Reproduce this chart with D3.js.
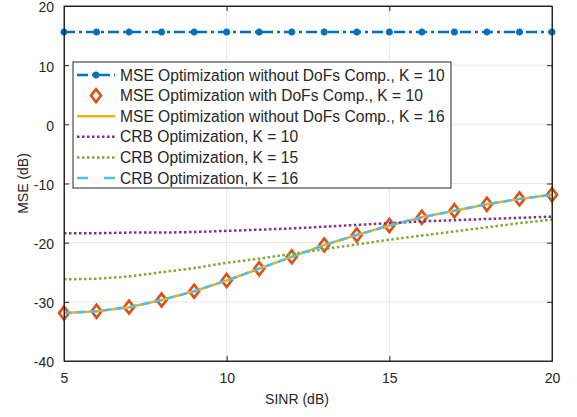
<!DOCTYPE html>
<html>
<head>
<meta charset="utf-8">
<script src="https://cdn.jsdelivr.net/npm/d3@7"></script>
<style>
  body { margin: 0; background: #fff; }
  text { font-family: "Liberation Sans", Arial, sans-serif; fill: #262626; }
</style>
</head>
<body>
<div></div>
<script>
const sinr = [5, 6, 7, 8, 9, 10, 11, 12, 13, 14, 15, 16, 17, 18, 19, 20];
const mseNoDofsK10 = [15.6, 15.6, 15.6, 15.6, 15.6, 15.6, 15.6, 15.6, 15.6, 15.6, 15.6, 15.6, 15.6, 15.6, 15.6, 15.6];
const mseDofsK10 = [-31.9, -31.6, -30.9, -29.7, -28.2, -26.4, -24.4, -22.4, -20.4, -18.7, -17.1, -15.7, -14.6, -13.5, -12.6, -11.9];
const mseNoDofsK16 = [-31.9, -31.6, -30.9, -29.7, -28.2, -26.4, -24.4, -22.4, -20.4, -18.7, -17.1, -15.7, -14.6, -13.5, -12.6, -11.9];
const crbK10 = [-18.4, -18.4, -18.3, -18.3, -18.2, -18.0, -17.8, -17.6, -17.3, -17.0, -16.7, -16.4, -16.2, -16.0, -15.8, -15.6];
const crbK15 = [-26.2, -26.1, -25.7, -25.0, -24.3, -23.4, -22.7, -21.9, -21.1, -20.3, -19.5, -18.8, -18.1, -17.4, -16.7, -16.1];
const crbK16 = [-31.9, -31.6, -30.9, -29.7, -28.2, -26.4, -24.4, -22.4, -20.4, -18.7, -17.1, -15.7, -14.6, -13.5, -12.6, -11.9];
const xTicks = [5, 10, 15, 20];
const yTicks = [-40, -30, -20, -10, 0, 10, 20];
const legendLabels = [
  'MSE Optimization without DoFs Comp., K = 10',
  'MSE Optimization with DoFs Comp., K = 10',
  'MSE Optimization without DoFs Comp., K = 16',
  'CRB Optimization, K = 10',
  'CRB Optimization, K = 15',
  'CRB Optimization, K = 16'
];

const width = 577, height = 417;
const margin = {left: 64, right: 25, top: 6, bottom: 56};

const svg = d3.select('div').append('svg')
  .attr('width', width)
  .attr('height', height);

const x = d3.scaleLinear().domain([5, 20]).range([margin.left, width - margin.right]);
const y = d3.scaleLinear().domain([-40, 20]).range([height - margin.bottom, margin.top]);

// grid
svg.append('g').selectAll('line.gx')
  .data(xTicks.slice(1, -1))
  .enter().append('line')
  .attr('x1', d => x(d)).attr('x2', d => x(d))
  .attr('y1', y(-40)).attr('y2', y(20))
  .attr('stroke', '#e6e6e6').attr('stroke-width', 1);
svg.append('g').selectAll('line.gy')
  .data(yTicks.slice(1, -1))
  .enter().append('line')
  .attr('x1', x(5)).attr('x2', x(20))
  .attr('y1', d => y(d)).attr('y2', d => y(d))
  .attr('stroke', '#e6e6e6').attr('stroke-width', 1);

const series = [
  {vals: mseNoDofsK10, color: '#0072BD', dash: '11,4,3,4', line: true, marker: 'star'},
  {vals: mseDofsK10, color: '#D95319', line: false, marker: 'diamond'},
  {vals: mseNoDofsK16, color: '#EDB120', dash: null, line: true},
  {vals: crbK10, color: '#7E2F8E', dash: '2.5,2.5', line: true},
  {vals: crbK15, color: '#77AC30', dash: '2.5,2.5', line: true},
  {vals: crbK16, color: '#4DBEEE', dash: '8,5', line: true}
];

const line = d3.line().x(d => x(d[0])).y(d => y(d[1]));
const diamond = 'M0,-6.5L5,0L0,6.5L-5,0Z';
const star = 'M-3.5,0H3.5M0,-3.5V3.5M-2.5,-2.5L2.5,2.5M-2.5,2.5L2.5,-2.5';

const plot = svg.append('g');
series.forEach(s => {
  const pts = sinr.map((v, i) => [v, s.vals[i]]);
  if (s.line) {
    plot.append('path')
      .attr('d', line(pts))
      .attr('fill', 'none')
      .attr('stroke', s.color)
      .attr('stroke-width', 2.5)
      .attr('stroke-dasharray', s.dash);
  }
  if (s.marker) {
    plot.selectAll(null).data(pts).enter().append('path')
      .attr('transform', d => `translate(${x(d[0])},${y(d[1])})`)
      .attr('d', s.marker === 'diamond' ? diamond : star)
      .attr('fill', 'none')
      .attr('stroke', s.color)
      .attr('stroke-width', s.marker === 'diamond' ? 2.7 : 2.2);
  }
});

// axes box
const axCol = '#262626';
svg.append('rect')
  .attr('x', x(5)).attr('y', y(20))
  .attr('width', x(20) - x(5)).attr('height', y(-40) - y(20))
  .attr('fill', 'none').attr('stroke', axCol).attr('stroke-width', 1);

const fmt = d => String(d);
const xAxis = d3.axisBottom(x).tickValues(xTicks).tickSize(-5).tickPadding(12).tickFormat(fmt);
const yAxis = d3.axisLeft(y).tickValues(yTicks).tickSize(-5).tickPadding(10).tickFormat(fmt);
const xAxisTop = d3.axisTop(x).tickValues(xTicks).tickSize(-5).tickFormat('');
const yAxisRight = d3.axisRight(y).tickValues(yTicks).tickSize(-5).tickFormat('');

const gx = svg.append('g').attr('transform', `translate(0,${y(-40)})`).call(xAxis);
const gy = svg.append('g').attr('transform', `translate(${x(5)},0)`).call(yAxis);
const gxt = svg.append('g').attr('transform', `translate(0,${y(20)})`).call(xAxisTop);
const gyr = svg.append('g').attr('transform', `translate(${x(20)},0)`).call(yAxisRight);
[gx, gy, gxt, gyr].forEach(g => {
  g.select('.domain').attr('stroke', axCol);
  g.selectAll('.tick line').attr('stroke', axCol);
  g.selectAll('.tick text')
    .style('font-family', '"Liberation Sans", Arial, sans-serif')
    .style('font-size', '14px')
    .attr('fill', axCol);
});
gy.selectAll('.tick text').attr('dy', '0.42em');

svg.append('text')
  .attr('x', 297).attr('y', 404)
  .attr('text-anchor', 'middle')
  .style('font-size', '14px')
  .text('SINR (dB)');
svg.append('text')
  .attr('transform', `translate(28,${(y(20) + y(-40)) / 2}) rotate(-90)`)
  .attr('text-anchor', 'middle')
  .style('font-size', '14px')
  .text('MSE (dB)');

// legend
const lg = svg.append('g');
const lx = 73, ly = 62, lw = 378, lh = 126, rowH = 20.6;
lg.append('rect')
  .attr('x', lx).attr('y', ly).attr('width', lw).attr('height', lh)
  .attr('fill', '#fff').attr('stroke', axCol).attr('stroke-width', 1);
series.forEach((s, i) => {
  const cy = ly + 13 + i * rowH;
  if (s.line) {
    lg.append('line')
      .attr('x1', 77).attr('x2', 115)
      .attr('y1', cy).attr('y2', cy)
      .attr('stroke', s.color).attr('stroke-width', 2.5)
      .attr('stroke-dasharray', s.dash === '8,5' ? '11,16' : s.dash);
  }
  if (s.marker) {
    lg.append('path')
      .attr('transform', `translate(96,${cy})`)
      .attr('d', s.marker === 'diamond' ? diamond : star)
      .attr('fill', 'none')
      .attr('stroke', s.color)
      .attr('stroke-width', s.marker === 'diamond' ? 2.7 : 2.2);
  }
  lg.append('text')
    .attr('x', 120).attr('y', cy)
    .attr('dy', '0.36em')
    .style('font-size', '15.6px')
    .text(legendLabels[i]);
});
</script>
</body>
</html>
